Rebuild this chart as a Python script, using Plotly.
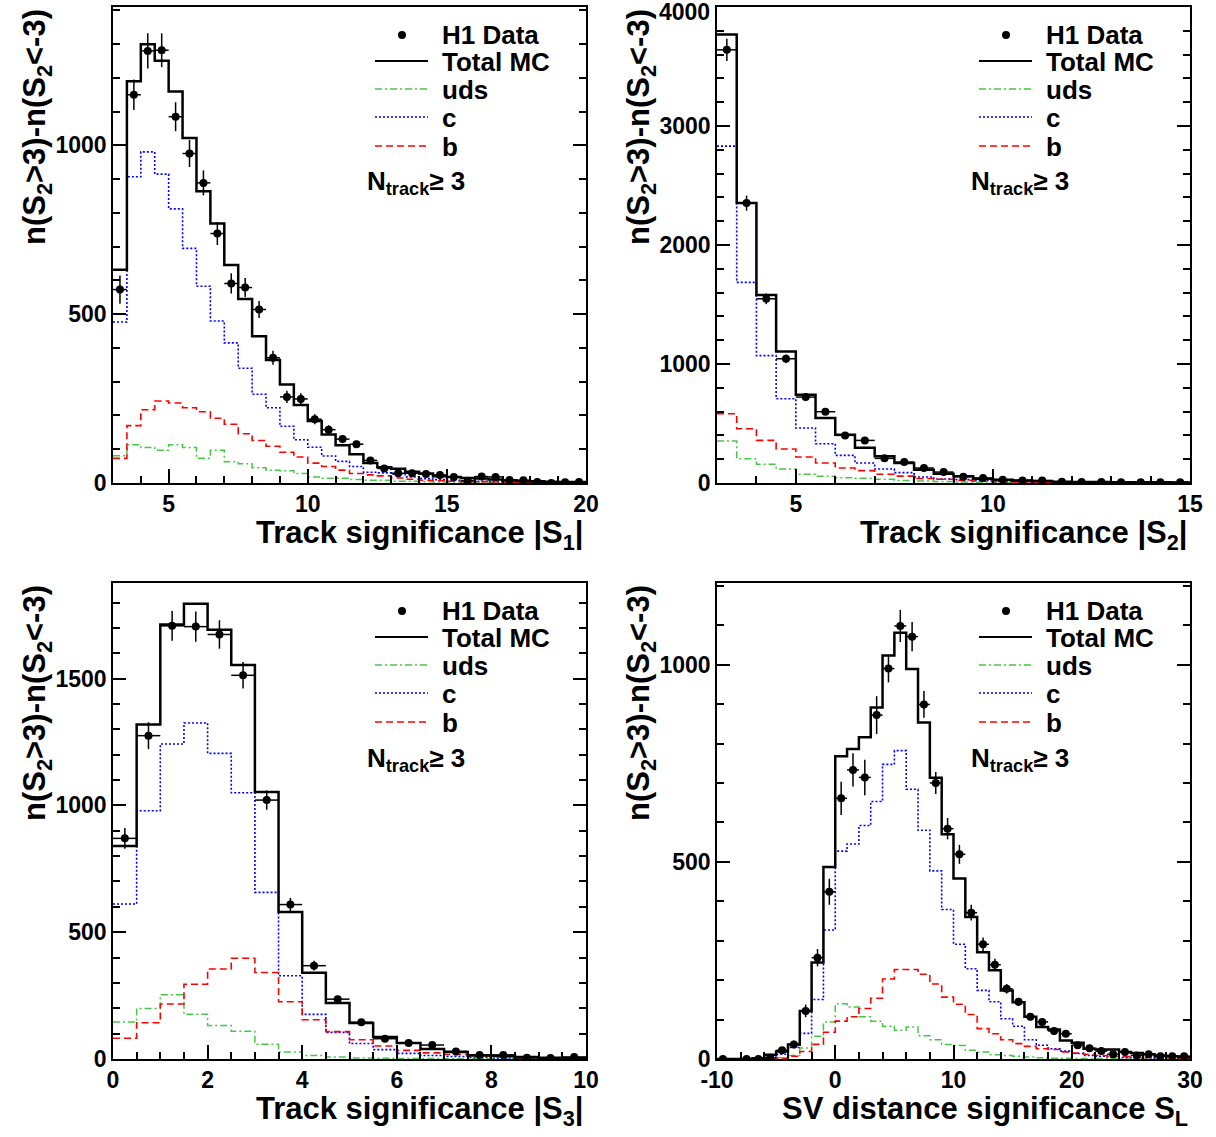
import plotly.graph_objects as go

W, H = 1216, 1137
FONT = "Liberation Sans"

# ---------------- top left: track significance |S1| (0.5 wide bins from 3)
s1_start, s1_bin = 3.0, 0.5
s1_total = [632, 1190, 1300, 1251, 1160, 1022, 864, 769, 646, 545, 435, 364, 292, 231, 184, 144, 112,
            85, 59, 47, 42, 33, 28, 20, 18, 15, 13, 10, 8, 6, 5, 4, 3, 3]
s1_uds = [81, 113, 105, 97, 113, 105, 73, 97, 63, 57, 45, 38, 36, 28, 18, 14, 14,
          10, 8, 8, 5, 5, 4, 3, 3, 2, 2, 2, 1, 1, 1, 1, 0, 0]
s1_c = [477, 907, 981, 915, 812, 695, 583, 480, 415, 340, 263, 223, 168, 128, 106, 80, 64,
        49, 32, 30, 26, 18, 13, 10, 8, 6, 5, 4, 3, 2, 2, 1, 1, 1]
s1_b = [73, 170, 217, 243, 237, 223, 211, 192, 174, 146, 126, 109, 91, 77, 59, 49, 38,
        28, 24, 21, 15, 11, 8, 7, 5, 4, 4, 3, 2, 2, 1, 1, 1, 1]
s1_data = [573, 1150, 1280, 1282, 1085, 976, 889, 739, 591, 579, 514, 371, 255, 249, 189, 158, 130,
           115, 67, 43, 29, 29, 27, 24, 18, 7, 19, 18, 9, 8, 3, 0, 2, 3]
s1_err = [42, 45, 52, 50, 43, 40, 37, 34, 30, 28, 25, 21, 18, 17, 15, 13, 12,
          11, 10, 9, 8, 8, 7, 7, 6, 6, 6, 5, 5, 5, 5, 4, 4, 4]

# ---------------- top right: track significance |S2|
s2_start, s2_bin = 3.0, 0.5
s2_total = [3769, 2352, 1579, 1106, 742, 546, 406, 297, 224, 168, 112, 78,
            56, 36, 28, 22, 17, 11, 9, 8, 7, 6, 6, 5]
s2_uds = [353, 204, 157, 118, 73, 56, 45, 39, 31, 22, 17, 12,
          9, 7, 5, 4, 3, 3, 2, 2, 1, 1, 1, 1]
s2_c = [2831, 1686, 1070, 708, 462, 330, 232, 168, 118, 87, 50, 34,
        28, 22, 14, 11, 9, 7, 5, 4, 3, 3, 2, 2]
s2_b = [582, 456, 358, 286, 218, 168, 126, 104, 73, 58, 38, 31,
        22, 15, 11, 8, 6, 5, 4, 3, 3, 2, 2, 2]
s2_data = [3640, 2352, 1548, 1044, 722, 599, 400, 358, 207, 176, 126, 92,
           53, 42, 28, 22, 20, 11, 8, 8, 6, 6, 6, 6]
s2_err = [94, 63, 45, 35, 28, 25, 20, 18, 15, 12, 10, 9,
          8, 7, 6, 6, 5, 5, 4, 4, 4, 4, 4, 4]
s2_ymax = 4000
s2_top_label = "4000"   # plotly drops the label sitting on the frame edge, so it is written by hand

# ---------------- bottom left: track significance |S3|
s3_start, s3_bin = 0.0, 0.5
s3_total = [840, 1319, 1713, 1795, 1693, 1554, 1053, 580, 340, 221,
            142, 87, 63, 39, 28, 14, 13, 8, 5, 4]
s3_uds = [146, 199, 253, 176, 132, 109, 58, 28, 14, 8,
          4, 3, 2, 2, 1, 1, 1, 0, 0, 0]
s3_c = [611, 979, 1242, 1325, 1205, 1050, 657, 328, 176, 105,
        61, 37, 22, 14, 10, 6, 4, 3, 2, 1]
s3_b = [82, 143, 217, 295, 355, 397, 341, 226, 155, 108,
        76, 51, 34, 24, 18, 12, 8, 5, 3, 2]
s3_data = [870, 1275, 1708, 1705, 1674, 1513, 1021, 609, 368, 236,
           145, 80, 63, 55, 30, 16, 16, 5, 4, 8]
s3_err = [41, 53, 59, 60, 56, 52, 38, 26, 19, 14,
          10, 8, 7, 6, 5, 4, 4, 3, 3, 3]

# ---------------- bottom right: SV distance significance S_L (1 wide bins from -10)
sl_start, sl_bin = -10.0, 1.0
sl_total = [0, 0, 0, 2, 11, 19, 37, 122, 245, 487,
            768, 786, 816, 891, 1023, 1081, 989, 853, 713, 570,
            458, 360, 271, 225, 174, 144, 107, 81, 75, 47,
            41, 26, 24, 24, 18, 15, 12, 9, 7, 5]
sl_uds = [0, 0, 0, 0, 0, 3, 9, 28, 58, 94,
          140, 132, 107, 96, 83, 73, 81, 59, 49, 37,
          34, 22, 18, 11, 9, 7, 5, 3, 2, 2,
          1, 1, 1, 1, 0, 0, 0, 0, 0, 0]
sl_c = [0, 0, 0, 0, 5, 12, 29, 65, 151, 327,
        527, 545, 592, 653, 747, 782, 684, 580, 477, 379,
        291, 229, 174, 145, 102, 83, 49, 35, 26, 20,
        14, 9, 7, 5, 4, 3, 3, 2, 2, 1]
sl_b = [0, 0, 0, 0, 0, 2, 7, 19, 37, 68,
        96, 107, 128, 154, 203, 227, 227, 215, 190, 157,
        139, 113, 77, 64, 49, 39, 32, 26, 24, 18,
        15, 12, 9, 7, 6, 5, 4, 3, 3, 2]
sl_data = [0, None, 0, 0, 3, 22, 37, 122, 257, 424,
           661, 733, 714, 872, 990, 1098, 1071, 899, 700, 584,
           519, 371, 291, 239, 178, 145, 107, 94, 71, 64,
           35, 27, 20, 12, 18, 9, 12, 7, 7, 7]
sl_err = [2, 0, 2, 3, 4, 8, 10, 16, 22, 33,
          42, 42, 45, 48, 35, 41, 37, 34, 28, 27,
          24, 20, 17, 15, 12, 10, 9, 8, 7, 6,
          5, 5, 4, 4, 4, 3, 3, 3, 3, 3]
sl_ticks = [-10, 0, 10, 20, 30]
sl_ticktext = ["-10", "0", "10", "20", "30"]

legend_labels = ["H1 Data", "Total MC", "uds", "c", "b"]
ntrack_label = "N<sub>track</sub>≥ 3"
ytitle = "n(S<sub>2</sub>&gt;3)-n(S<sub>2</sub>&lt;-3)"

# frames in pixels: left, right, top, bottom
panels = [
    dict(start=s1_start, bin=s1_bin, total=s1_total, uds=s1_uds, c=s1_c, b=s1_b, data=s1_data, err=s1_err,
         xr=[3, 20], yr=[0, 1410], xd=5, xm=1, yd=500, ym=100, frame=(113, 586, 7, 483),
         xtitle="Track significance |S<sub>1</sub>|"),
    dict(start=s2_start, bin=s2_bin, total=s2_total, uds=s2_uds, c=s2_c, b=s2_b, data=s2_data, err=s2_err,
         xr=[3, 15], yr=[0, s2_ymax], xd=5, xm=1, yd=1000, ym=200, frame=(717, 1190, 7, 483),
         xtitle="Track significance |S<sub>2</sub>|"),
    dict(start=s3_start, bin=s3_bin, total=s3_total, uds=s3_uds, c=s3_c, b=s3_b, data=s3_data, err=s3_err,
         xr=[0, 10], yr=[0, 1877], xd=2, xm=0.5, yd=500, ym=100, frame=(113, 586, 583, 1059),
         xtitle="Track significance |S<sub>3</sub>|"),
    dict(start=sl_start, bin=sl_bin, total=sl_total, uds=sl_uds, c=sl_c, b=sl_b, data=sl_data, err=sl_err,
         xr=[-10, 30], yr=[0, 1207], xd=10, xm=2, yd=500, ym=100, frame=(717, 1190, 583, 1059),
         xtitle="SV distance significance S<sub>L</sub>", ticks=(sl_ticks, sl_ticktext)),
]

GREEN, BLUE, RED = "#46c846", "#0000ff", "#ff0000"
styles = [  # component, colour, dash, width
    ("uds", GREEN, "7px,3px,2px,3px", 1.5),
    ("c", BLUE, "2px,2px", 1.6),
    ("b", RED, "7px,4px", 1.6),
    ("total", "black", "solid", 2.5),
]


def px(x):
    return x / W


def py(y):
    return 1 - y / H


fig = go.Figure()
annotations = []
shapes = []
tickfont = dict(family=FONT, size=23, color="black", weight="bold")

for i, p in enumerate(panels):
    n = len(p["total"])
    xa = "x" if i == 0 else f"x{i + 1}"
    ya = "y" if i == 0 else f"y{i + 1}"
    edges = [p["start"] + k * p["bin"] for k in range(n + 1)]
    centres = [p["start"] + (k + 0.5) * p["bin"] for k in range(n)]

    for key, col, dash, lw in styles:
        vals = p[key]
        fig.add_trace(go.Scatter(x=edges, y=vals + [vals[-1]], mode="lines", line_shape="hv",
                                 line=dict(color=col, dash=dash, width=lw),
                                 xaxis=xa, yaxis=ya, showlegend=False, hoverinfo="skip"))

    fig.add_trace(go.Scatter(x=centres, y=p["data"], mode="markers",
                             marker=dict(color="black", size=8),
                             error_y=dict(type="data", array=p["err"], color="black", thickness=1.5, width=0),
                             error_x=dict(type="constant", value=p["bin"] / 2, color="black", thickness=1.5, width=0),
                             xaxis=xa, yaxis=ya, showlegend=False))

    l, r, t, b = p["frame"]
    xkey = "xaxis" if i == 0 else f"xaxis{i + 1}"
    ykey = "yaxis" if i == 0 else f"yaxis{i + 1}"
    xaxis = dict(domain=[px(l), px(r)], anchor=ya, range=p["xr"], showgrid=False, zeroline=False,
                 automargin=False,
                 showline=True, linecolor="black", linewidth=1.5, mirror=True,
                 ticks="inside", ticklen=14, tickwidth=1.5, tickcolor="black",
                 tick0=0, dtick=p["xd"], tickfont=tickfont,
                 minor=dict(ticks="inside", ticklen=7, dtick=p["xm"], tick0=0, tickcolor="black", tickwidth=1.5))
    if "ticks" in p:
        xaxis.update(tickmode="array", tickvals=p["ticks"][0], ticktext=p["ticks"][1])
    yaxis = dict(domain=[py(b), py(t)], anchor=xa, range=p["yr"], showgrid=False, zeroline=False,
                 automargin=False,
                 showline=True, linecolor="black", linewidth=1.5, mirror="ticks",
                 ticks="inside", ticklen=13, tickwidth=1.5, tickcolor="black",
                 tick0=0, dtick=p["yd"], tickfont=tickfont,
                 minor=dict(ticks="inside", ticklen=7, dtick=p["ym"], tick0=0, tickcolor="black", tickwidth=1.5))
    fig.layout[xkey] = xaxis
    fig.layout[ykey] = yaxis

    # axis titles
    annotations.append(dict(text=p["xtitle"], x=px(r), y=py(b + 30), xref="paper", yref="paper",
                            xanchor="right", yanchor="top", showarrow=False,
                            font=dict(family=FONT, size=31, color="black", weight="bold")))
    annotations.append(dict(text=ytitle, x=px(l - 76), y=py(t), xref="paper", yref="paper",
                            xanchor="center", yanchor="top", textangle=-90, showarrow=False,
                            font=dict(family=FONT, size=31, color="black", weight="bold")))

    # legend (drawn by hand, ROOT style)
    dx, dy = l - 113, t - 7
    rows = [35, 62, 90, 118, 147]
    for k, lab in enumerate(legend_labels):
        annotations.append(dict(text=lab, x=px(440 + dx), y=py(rows[k] + dy), xref="paper", yref="paper",
                                xanchor="left", yanchor="middle", showarrow=False,
                                font=dict(family=FONT, size=26, color="black", weight="bold")))
    shapes.append(dict(type="circle", xref="paper", yref="paper",
                       x0=px(398 + dx), x1=px(406 + dx), y0=py(rows[0] + dy + 4), y1=py(rows[0] + dy - 4),
                       fillcolor="black", line=dict(width=0)))
    for k, (key, col, dash, lw) in enumerate([styles[3], styles[0], styles[1], styles[2]]):
        yy = py(rows[k + 1] + dy - 1)
        shapes.append(dict(type="line", xref="paper", yref="paper", x0=px(375 + dx), x1=px(428 + dx),
                           y0=yy, y1=yy, line=dict(color=col, dash=dash, width=min(lw, 2))))
    annotations.append(dict(text=ntrack_label, x=px(365 + dx), y=py(183 + dy), xref="paper", yref="paper",
                            xanchor="left", yanchor="middle", showarrow=False,
                            font=dict(family=FONT, size=26, color="black", weight="bold")))

# top label of the |S2| panel, placed on its y axis at s2_ymax
annotations.append(dict(text=s2_top_label, x=0, y=s2_ymax, xref="x2 domain", yref="y2",
                        xanchor="right", yanchor="middle", xshift=-5, yshift=-5, showarrow=False,
                        font=tickfont))

fig.update_layout(width=W, height=H, margin=dict(l=0, r=0, t=0, b=0),
                  paper_bgcolor="white", plot_bgcolor="white",
                  annotations=annotations, shapes=shapes)

# the page's default body margin would push the figure 8px right and down
fig.write_html("out.html", config={"displayModeBar": False},
               post_script="document.body.style.margin='0';")
